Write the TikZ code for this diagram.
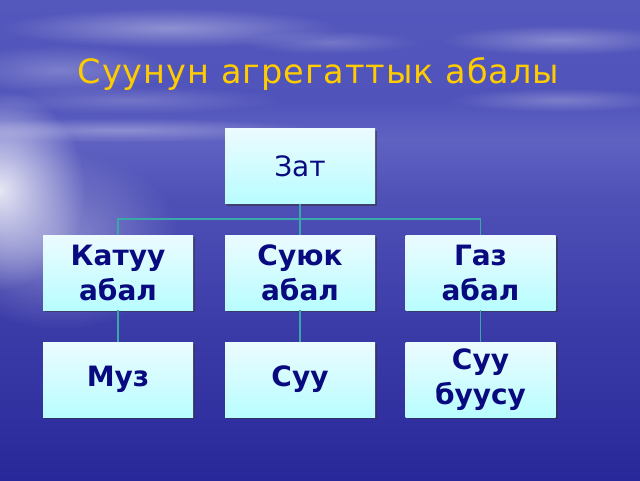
\documentclass[tikz,border=0pt]{standalone}
\usepackage{fontspec}
\setmainfont{DejaVu Sans}
\usetikzlibrary{shadows,fadings}
\definecolor{bgA}{HTML}{5457BC}
\definecolor{bgB}{HTML}{5053BA}
\definecolor{bgC}{HTML}{6062C2}
\definecolor{bgD}{HTML}{4E50B6}
\definecolor{bgE}{HTML}{3B3BA8}
\definecolor{bgF}{HTML}{29289A}
\definecolor{boxtop}{HTML}{ECFBFF}
\definecolor{boxbot}{HTML}{B8FDFF}
\definecolor{ink}{HTML}{0A0A80}
\definecolor{conn}{HTML}{3AA8A8}
\definecolor{titlecol}{HTML}{FFCC00}
\pgfdeclareverticalshading{bgshade}{100bp}{color(0bp)=(bgF); color(25bp)=(bgF); color(40.6bp)=(bgE); color(54.2bp)=(bgD); color(60.4bp)=(bgC); color(64.6bp)=(bgB); color(75bp)=(bgA); color(100bp)=(bgA)}
\tikzfading[name=glow, inner color=transparent!0, outer color=transparent!100]
\tikzset{
  box/.style={minimum width=150pt, minimum height=75pt, inner sep=0pt,
    top color=boxtop, bottom color=boxbot, text=ink, align=center,
    drop shadow={shadow xshift=2pt, shadow yshift=-2pt, opacity=0.55, fill=black!80}},
  boldtext/.style={font=\fontsize{28}{35}\selectfont\bfseries},
  connector/.style={draw=conn, line width=1.5pt},
  cloud/.style={fill=white, path fading=glow}
}
\begin{document}
\begin{tikzpicture}[x=1pt,y=-1pt]
\useasboundingbox (0,0) rectangle (640,480);
\shade[shading=bgshade] (0,0) rectangle (640,480);
% haze and clouds
\begin{scope}
\clip (0,0) rectangle (640,480);
\fill[cloud, opacity=0.85] (0,190) ellipse [x radius=85, y radius=100];
\fill[cloud, opacity=0.35] (60,240) ellipse [x radius=120, y radius=90];
\fill[cloud, opacity=0.3] (120,130) ellipse [x radius=200, y radius=12];
\fill[cloud, opacity=0.35] (170,28) ellipse [x radius=170, y radius=20];
\fill[cloud, opacity=0.25] (60,70) ellipse [x radius=110, y radius=25];
\fill[cloud, opacity=0.2] (330,42) ellipse [x radius=90, y radius=12];
\fill[cloud, opacity=0.3] (560,40) ellipse [x radius=120, y radius=15];
\fill[cloud, opacity=0.25] (560,100) ellipse [x radius=110, y radius=12];
\fill[cloud, opacity=0.2] (130,100) ellipse [x radius=150, y radius=14];
\end{scope}
\node[text=titlecol, font=\fontsize{33.5}{40}\selectfont\addfontfeatures{LetterSpace=3}, anchor=base] (title) at (318.5,83) {Суунун агрегаттык абалы};
\coordinate (bus) at (300,219);
\node[box, font=\fontsize{28}{35}\selectfont] (zat) at (300,166) {Зат};
\node[box, boldtext] (katuu) at (118,272.5) {Катуу\\абал};
\node[box, boldtext] (suyuk) at (300,272.5) {Суюк\\абал};
\node[box, boldtext] (gaz) at (480.5,272.5) {Газ\\абал};
\node[box, boldtext] (muz) at (118,379.5) {Муз};
\node[box, boldtext] (suu) at (300,379.5) {Суу};
\node[box, boldtext] (buu) at (480.5,379.5) {Суу\\буусу};
\draw[connector] (zat.south) -- (suyuk.north);
\draw[connector] (katuu.north) -- (katuu.north |- bus) -- (gaz.north |- bus) -- (gaz.north);
\draw[connector] (katuu.south) -- (muz.north);
\draw[connector] (suyuk.south) -- (suu.north);
\draw[connector] (gaz.south) -- (buu.north);
\end{tikzpicture}
\end{document}
